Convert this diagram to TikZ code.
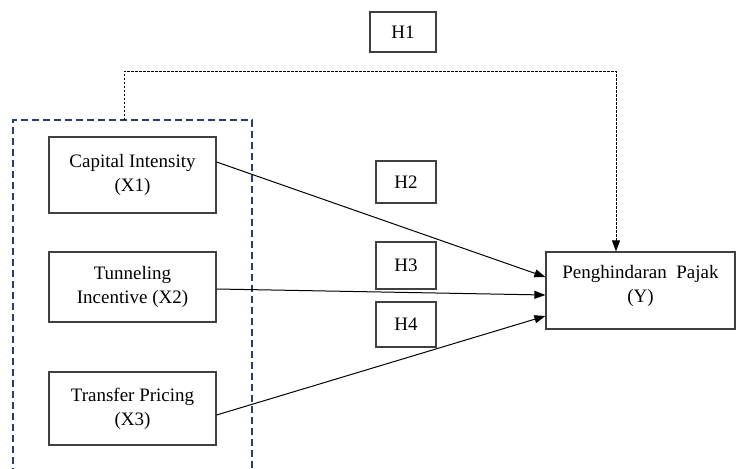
\documentclass[tikz,border=0pt]{standalone}
\usepackage{fontspec}
\setmainfont{Liberation Serif}
\usetikzlibrary{arrows.meta,calc}
\definecolor{boxgray}{RGB}{64,64,64}
\definecolor{navy}{RGB}{40,62,110}
\begin{document}
\begin{tikzpicture}[x=1pt,y=-1pt,
  box/.style={draw=boxgray, line width=1.2pt, align=center, inner sep=0pt,
              font=\fontsize{19}{24}\selectfont},
  txt/.style={align=center, inner sep=0pt, font=\fontsize{19}{24}\selectfont},
  conn/.style={draw=black, line width=1pt, -{Triangle[length=11pt,width=8pt]}},
  dotline/.style={draw=black, line width=0.8pt, dash pattern=on 2.5pt off 1.5pt,
                  -{Triangle[length=11pt,width=8pt]}},
  groupline/.style={draw=navy, line width=1.1pt, dash pattern=on 7pt off 4pt}
]
\useasboundingbox (0,0) rectangle (737,469);

% hypothesis labels
\node[box, minimum width=66pt, minimum height=40pt] (h1) at (403,32) {H1};
\node[box, minimum width=60pt, minimum height=42pt] (h2) at (406,182) {H2};
\node[box, minimum width=60pt, minimum height=47pt] (h3) at (406,265.5) {H3};
\node[box, minimum width=60pt, minimum height=45pt] (h4) at (406,324.5) {H4};

% independent variables
\node[box, minimum width=167pt, minimum height=76pt] (x1) at (132.5,175) {Capital Intensity\\(X1)};
\node[box, minimum width=167pt, minimum height=70pt] (x2) at (132.5,287) {Tunneling\\Incentive (X2)};
\node[box, minimum width=167pt, minimum height=73pt] (x3) at (132.5,408.5) {Transfer Pricing\\(X3)};

% dependent variable
\node[box, minimum width=189pt, minimum height=77pt] (y) at (640.5,290.5) {};
\node[txt] (ytext) at ([yshift=5pt]y.center) {Penghindaran\ \ Pajak\\(Y)};

% dashed group frame
\draw[groupline] (13,475) -- (13,120) -- (252,120) -- (252,475);
\coordinate (gtop) at (124,120);
\coordinate (ytop) at ([xshift=-24.5pt]y.north);

% H1 simultaneous path
\draw[dotline] (gtop) -- ++(0,-49) -| (ytop);

% partial paths
\draw[conn] ([yshift=13pt]x1.east) -- ([yshift=13.5pt]y.west);
\draw[conn] ([yshift=-2pt]x2.east) -- ([yshift=-4.5pt]y.west);
\draw[conn] ([yshift=-6.5pt]x3.east) -- ([yshift=-25.5pt]y.west);
\end{tikzpicture}
\end{document}
